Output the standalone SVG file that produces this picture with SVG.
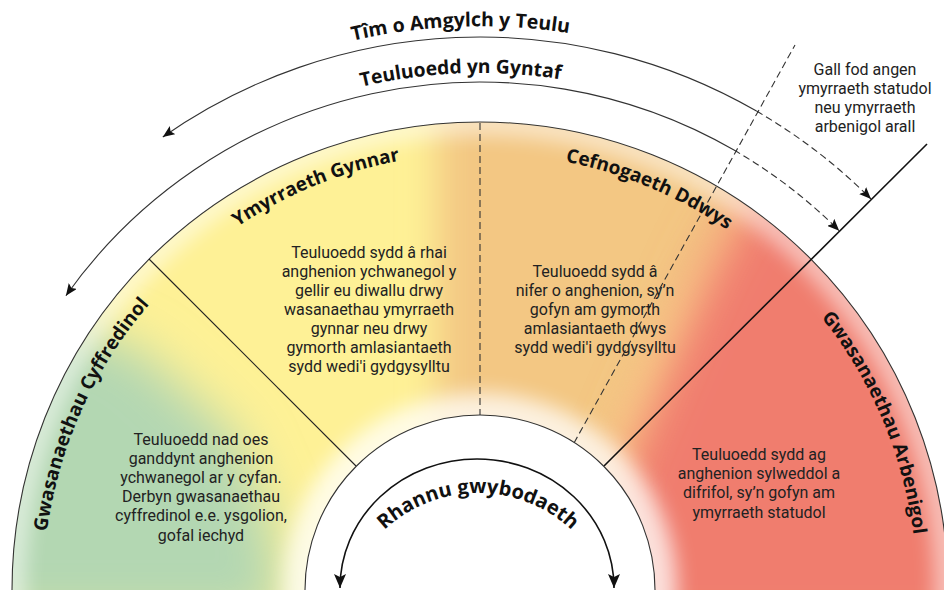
<svg xmlns="http://www.w3.org/2000/svg" width="944" height="590" viewBox="0 0 944 590">
<defs>
<style>
.lbl{font-family:"Open Sans","Noto Sans","Liberation Sans",sans-serif;font-weight:bold;fill:#111;}
.body{font-family:Roboto,"Liberation Sans",sans-serif;font-size:16px;fill:#222;text-anchor:middle;}
.arc{fill:none;stroke:#333;stroke-width:1.1;}
.dash{fill:none;stroke:#333;stroke-width:1.1;stroke-dasharray:7 4;}
</style>
<clipPath id="ann"><path d="M12,590 A468,468 0 0 1 948,590 L655,590 A175,175 0 0 0 305,590 Z"/></clipPath>
<filter id="b25" filterUnits="userSpaceOnUse" x="-200" y="-100" width="1400" height="900"><feGaussianBlur stdDeviation="25"/></filter>
<filter id="b18" filterUnits="userSpaceOnUse" x="-200" y="-100" width="1400" height="900"><feGaussianBlur stdDeviation="18"/></filter>
<filter id="b10" filterUnits="userSpaceOnUse" x="-200" y="-100" width="1400" height="900"><feGaussianBlur stdDeviation="10"/></filter>
<marker id="ah" viewBox="0 0 12 10" refX="12" refY="5" markerWidth="12" markerHeight="10" markerUnits="userSpaceOnUse" orient="auto-start-reverse"><path d="M0,0 L12,5 L0,10 L2.5,5 Z" fill="#111"/></marker>
<marker id="ah2" viewBox="0 0 14 12" refX="14" refY="6" markerWidth="14" markerHeight="12" markerUnits="userSpaceOnUse" orient="auto-start-reverse"><path d="M0,0 L14,6 L0,12 L3,6 Z" fill="#111"/></marker>
<path id="pTim" d="M-84,590 A564,564 0 0 1 1044,590"/>
<path id="pTeu" d="M-37,590 A517,517 0 0 1 997,590"/>
<path id="pSec" d="M43,590 A437,437 0 0 1 917,590"/>
<path id="pRh" d="M341,630 A137,137 0 0 1 615,630"/>
</defs>
<rect width="944" height="590" fill="#fff"/>

<g id="band">
<g clip-path="url(#ann)">
<rect x="0" y="100" width="944" height="500" fill="#FEF196"/>
<polygon points="-80,620 -80,300 50,315 140,350 235,435 272,520 285,620" fill="#B3D7B2" filter="url(#b25)"/>
<polygon points="437,60 820,60 720,240 660,340 610,460 610,640 437,640" fill="#F3C783" filter="url(#b18)"/>
<polygon points="615,470 675,330 712,250 765,160 1040,160 1040,640 615,640" fill="#F07D6E" filter="url(#b25)"/>
<circle cx="480" cy="590" r="175" fill="none" stroke="#fff" stroke-width="44" opacity="0.75" filter="url(#b10)"/>
<circle cx="480" cy="590" r="468" fill="none" stroke="#fff" stroke-width="26" opacity="0.55" filter="url(#b10)"/>
</g>
<path class="arc" d="M12,590 A468,468 0 0 1 948,590"/>
</g>

<g id="connectors">
<line x1="149" y1="259" x2="356" y2="466" stroke="#222" stroke-width="1.1"/>
<line x1="480" y1="123" x2="480" y2="415" class="dash"/>
<line x1="574" y1="443" x2="795" y2="45" class="dash"/>
<line x1="604" y1="466" x2="927" y2="144" stroke="#111" stroke-width="1.6"/>
<path class="arc" d="M756.5,111.1 A553,553 0 0 0 162.8,137" marker-end="url(#ah)"/>
<path class="dash" d="M756.5,111.1 A553,553 0 0 1 871,199" marker-end="url(#ah)"/>
<path class="arc" d="M734,150.1 A508,508 0 0 0 65.9,295.7" marker-end="url(#ah)"/>
<path class="dash" d="M734,150.1 A508,508 0 0 1 839.2,230.8" marker-end="url(#ah)"/>
</g>

<g id="inner">
<circle cx="480" cy="590" r="175" fill="#fff" stroke="#333" stroke-width="1.1"/>
<path d="M340,588 A137,129 0 0 1 614,588" fill="none" stroke="#111" stroke-width="1.6" marker-start="url(#ah2)" marker-end="url(#ah2)"/>
<text class="lbl" font-size="20"><textPath href="#pRh" startOffset="50%" text-anchor="middle">Rhannu gwybodaeth</textPath></text>
</g>

<g id="outer-labels">
<text class="lbl" font-size="19.5"><textPath href="#pTim" startOffset="48.9%" text-anchor="middle">Tîm o Amgylch y Teulu</textPath></text>
<text class="lbl" font-size="19.3"><textPath href="#pTeu" startOffset="48.8%" text-anchor="middle">Teuluoedd yn Gyntaf</textPath></text>
</g>

<g id="cyffredinol">
<text class="lbl" font-size="19"><textPath href="#pSec" startOffset="200.9" text-anchor="end">Gwasanaethau</textPath></text>
<text class="lbl" font-size="19"><textPath href="#pSec" startOffset="205.9" text-anchor="start">Cyffredinol</textPath></text>
<text class="body"><tspan x="201" y="445">Teuluoedd nad oes</tspan><tspan x="201" y="464">ganddynt anghenion</tspan><tspan x="201" y="483">ychwanegol ar y cyfan.</tspan><tspan x="201" y="502">Derbyn gwasanaethau</tspan><tspan x="201" y="521">cyffredinol e.e. ysgolion,</tspan><tspan x="201" y="541">gofal iechyd</tspan></text>
</g>

<g id="ymyrraeth">
<text class="lbl" font-size="19"><textPath href="#pSec" startOffset="37.7%" text-anchor="middle">Ymyrraeth Gynnar</textPath></text>
<text class="body"><tspan x="369" y="258">Teuluoedd sydd â rhai</tspan><tspan x="369" y="277">anghenion ychwanegol y</tspan><tspan x="369" y="296">gellir eu diwallu drwy</tspan><tspan x="369" y="315">wasanaethau ymyrraeth</tspan><tspan x="369" y="334">gynnar neu drwy</tspan><tspan x="369" y="353">gymorth amlasiantaeth</tspan><tspan x="369" y="372">sydd wedi'i gydgysylltu</tspan></text>
</g>

<g id="cefnogaeth">
<text class="lbl" font-size="19"><textPath href="#pSec" startOffset="62.7%" text-anchor="middle">Cefnogaeth Ddwys</textPath></text>
<text class="body"><tspan x="595" y="277">Teuluoedd sydd â</tspan><tspan x="595" y="296">nifer o anghenion, sy’n</tspan><tspan x="595" y="315">gofyn am gymorth</tspan><tspan x="595" y="334">amlasiantaeth dwys</tspan><tspan x="595" y="353">sydd wedi'i gydgysylltu</tspan></text>
</g>

<g id="arbenigol">
<text class="lbl" font-size="19"><textPath href="#pSec" startOffset="1219.9" text-anchor="end">Gwasanaethau</textPath></text>
<text class="lbl" font-size="19"><textPath href="#pSec" startOffset="1224.9" text-anchor="start">Arbenigol</textPath></text>
<text class="body"><tspan x="759" y="460">Teuluoedd sydd ag</tspan><tspan x="759" y="479">anghenion sylweddol a</tspan><tspan x="759" y="498">difrifol, sy’n gofyn am</tspan><tspan x="759" y="518">ymyrraeth statudol</tspan></text>
</g>

<g id="note">
<text class="body"><tspan x="865" y="75">Gall fod angen</tspan><tspan x="865" y="94">ymyrraeth statudol</tspan><tspan x="865" y="113">neu ymyrraeth</tspan><tspan x="865" y="132">arbenigol arall</tspan></text>
</g>
</svg>
